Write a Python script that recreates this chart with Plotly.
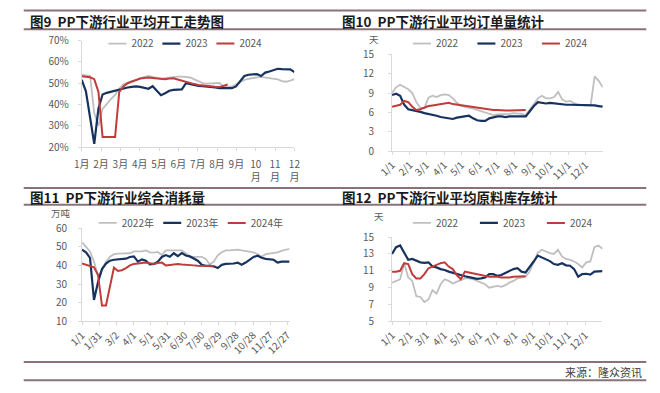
import plotly.graph_objects as go
import pandas as pd

# ---------------- data ----------------
# 图9 平均开工率 (%), weekly
p1_ticktext = ["1月", "2月", "3月", "4月", "5月", "6月", "7月", "8月", "9月", "10<br>月", "11<br>月", "12<br>月"]
p1_2022 = [53.9, 53.7, 53.4, 36.0, 30.0, 38.0, 40.5, 42.5, 44.5, 47.5, 49.5, 50.3, 51.0, 51.5, 52.3, 53.0,
           53.4, 52.8, 52.5, 52.2, 52.5, 52.8, 53.0, 53.1, 53.1, 53.0, 52.7, 51.8, 50.8, 50.1, 49.8, 49.8,
           50.1, 50.1, 48.5, 48.2, 48.5, 49.5, 50.5, 51.6, 52.0, 52.5, 52.8, 53.0, 52.7, 52.6, 52.4, 51.8,
           51.0, 50.7, 51.2, 51.9]
p1_2023 = [51.6, 46.2, 34.0, 21.5, 38.0, 44.7, 45.5, 46.0, 46.6, 47.2, 47.5, 48.0, 48.3, 48.5, 48.3, 47.8,
           47.4, 48.6, 46.5, 44.4, 45.3, 46.5, 46.9, 47.0, 47.1, 50.0, 49.5, 49.0, 48.8, 48.6, 48.5, 48.3,
           48.0, 47.7, 47.7, 47.7, 47.7, 48.5, 51.0, 53.4, 54.0, 54.2, 54.3, 53.4, 55.0, 55.5, 56.0, 56.8,
           56.6, 56.5, 56.5, 55.2]
p1_2024 = [53.3, 53.2, 52.8, 51.9, 46.0, 24.8, 24.8, 24.8, 24.8, 46.0, 48.5, 50.0, 50.8, 51.5, 52.2, 52.5,
           52.7, 52.5, 52.3, 52.0, 51.9, 52.2, 52.3, 51.8, 51.2, 50.5, 50.0, 49.6, 49.2, 48.9, 48.6, 48.4,
           48.3, 48.2, 48.8, 49.4]

# 图10 平均订单天数 (天), weekly
p2_2022 = [9.0, 9.9, 10.3, 10.0, 9.6, 9.0, 7.6, 6.7, 6.7, 8.3, 8.6, 8.4, 8.7, 8.8, 8.7, 8.2, 7.5, 7.0,
           6.8, 6.7, 6.6, 6.4, 6.2, 6.0, 5.8, 5.6, 5.7, 5.7, 5.8, 5.8, 5.9, 5.9, 5.8, 5.6, 6.4, 7.3, 8.2,
           8.6, 8.2, 8.2, 8.4, 9.2, 8.0, 7.7, 7.8, 7.4, 7.2, 7.1, 7.1, 7.1, 11.6, 10.9, 9.9]
p2_2023 = [8.7, 8.9, 8.6, 7.2, 6.5, 6.4, 6.3, 6.1, 5.9, 5.8, 5.7, 5.5, 5.3, 5.2, 5.1, 5.0, 5.2, 5.3,
           5.3, 5.5, 5.1, 4.8, 4.7, 4.7, 5.1, 5.3, 5.4, 5.4, 5.3, 5.4, 5.4, 5.4, 5.5, 5.4, 6.2, 7.0, 7.6,
           7.5, 7.4, 7.5, 7.4, 7.3, 7.3, 7.2, 7.2, 7.2, 7.1, 7.1, 7.1, 7.1, 7.1, 7.0, 6.9]
p2_2024 = [6.9, 7.1, 7.2, 7.8, 7.6, 6.9, 6.4, 6.5, 6.8, 7.0, 7.1, 7.2, 7.4, 7.5, 7.5, 7.3, 7.2, 7.2,
           7.1, 6.9, 6.9, 6.8, 6.7, 6.6, 6.5, 6.4, 6.4, 6.3, 6.3, 6.3, 6.3, 6.4, 6.4, 6.4]

# 图11 综合消耗量 (万吨), weekly
p3_2022 = [52.3, 49.8, 47.5, 42.0, 34.0, 37.5, 42.0, 44.6, 46.0, 46.3, 46.3, 46.3, 46.5, 47.5, 47.5,
           47.5, 48.0, 47.0, 46.8, 47.2, 45.5, 48.0, 48.0, 48.0, 48.0, 48.0, 46.5, 44.8, 44.6, 44.6, 44.6,
           43.5, 40.5, 42.0, 45.4, 47.0, 48.0, 48.0, 48.2, 48.4, 48.0, 47.7, 47.3, 47.0, 46.0, 44.6, 46.0,
           46.3, 46.5, 47.0, 47.7, 48.5, 48.9]
p3_2023 = [48.4, 47.0, 44.0, 21.5, 31.0, 38.0, 41.0, 42.5, 43.0, 43.2, 43.3, 43.6, 44.5, 44.8, 42.0,
           43.2, 42.5, 40.5, 40.8, 42.0, 44.5, 45.5, 44.6, 46.5, 45.0, 46.6, 45.3, 44.8, 43.7, 42.5, 40.3,
           39.8, 39.8, 39.5, 38.6, 40.3, 40.8, 40.8, 41.0, 41.5, 40.3, 41.5, 43.0, 44.5, 45.2, 44.1, 43.5,
           43.2, 43.0, 41.5, 42.0, 42.0, 42.0]
p3_2024 = [41.0, 40.3, 39.5, 39.0, 35.0, 18.5, 18.5, 28.0, 38.8, 37.0, 37.4, 38.5, 40.0, 40.8, 41.2,
           41.3, 41.5, 41.2, 40.8, 41.3, 41.5, 40.0, 40.3, 40.6, 40.8, 40.5, 40.2, 40.0, 40.0, 39.8, 39.8,
           39.6, 39.5, 39.5]

# 图12 平均原料库存天数 (天), weekly
p4_2022 = [9.6, 9.8, 10.0, 11.9, 10.2, 9.8, 8.0, 7.9, 7.3, 7.6, 8.7, 8.3, 9.4, 10.0, 9.8, 9.5, 9.7,
           9.9, 10.1, 10.1, 10.0, 9.8, 9.6, 9.4, 9.0, 9.1, 9.2, 9.1, 9.3, 9.6, 9.8, 10.1, 10.2, 10.3, 10.9,
           12.0, 13.1, 13.5, 13.3, 13.1, 13.0, 13.5, 12.7, 12.4, 12.3, 12.1, 11.8, 11.4, 12.0, 12.1, 13.8,
           14.0, 13.6]
p4_2023 = [13.0, 13.8, 14.0, 13.2, 12.3, 12.4, 12.2, 12.0, 11.95, 12.0, 11.5, 11.4, 11.2, 11.1, 10.9,
           10.75, 10.6, 10.5, 10.35, 10.25, 10.15, 10.05, 10.1, 10.2, 10.6, 10.6, 10.4, 10.5, 10.75, 10.95,
           11.2, 11.3, 10.9, 10.8, 11.4, 12.1, 12.8, 12.6, 12.35, 12.15, 11.8, 11.7, 11.9, 11.65, 11.6,
           11.2, 10.3, 10.6, 10.65, 10.55, 10.9, 10.95, 10.95]
p4_2024 = [10.9, 10.9, 11.0, 11.9, 11.8, 10.6, 10.1, 10.1, 10.6, 11.3, 11.5, 11.7, 11.9, 12.0, 11.5,
           11.2, 10.5, 10.0, 10.9, 10.8, 10.7, 10.6, 10.5, 10.4, 10.3, 10.3, 10.3, 10.2, 10.2, 10.2, 10.3,
           10.3, 10.3, 10.35]

years = ["2022", "2023", "2024"]
years_cn = ["2022年", "2023年", "2024年"]
titles = ["图9  PP下游行业平均开工走势图", "图10  PP下游行业平均订单量统计",
          "图11  PP下游行业综合消耗量", "图12  PP下游行业平均原料库存统计"]
source_text = "来源：隆众资讯"

# ---------------- style ----------------
W, H = 660, 393
colors = ["#BFBFBF", "#17325E", "#C23B3B"]
widths = [1.8, 2.2, 2.0]
FONT = "Noto Sans CJK SC, sans-serif"
TICKC = "#595959"
AXC = "#D9D9D9"
BAR = "#8A7378"


def px_x(v):
    return v / W


def px_y(v):
    return 1 - v / H


def weekly_dates(n):
    return pd.date_range("2023-01-01", periods=n, freq="7D")


# legend entry widths (px) per panel: pitch between entries, last entry wide enough for its text
leg_w = {"legend": [9, 9, 28], "legend2": [19.5, 19.5, 28], "legend3": [19.5, 19.5, 36], "legend4": [22, 22, 28]}

fig = go.Figure()

panels = [
    ("x", "y", "legend", years, [p1_2022, p1_2023, p1_2024], None),
    ("x2", "y2", "legend2", years, [p2_2022, p2_2023, p2_2024], "date"),
    ("x3", "y3", "legend3", years_cn, [p3_2022, p3_2023, p3_2024], "date"),
    ("x4", "y4", "legend4", years, [p4_2022, p4_2023, p4_2024], "date"),
]
for xa, ya, lg, names, series, kind in panels:
    for i, s in enumerate(series):
        xs = weekly_dates(len(s)) if kind == "date" else list(range(len(s)))
        fig.add_trace(go.Scatter(x=xs, y=s, mode="lines", name=names[i],
                                 line=dict(color=colors[i], width=widths[i]),
                                 xaxis=xa, yaxis=ya, legend=lg, legendwidth=leg_w[lg][i]))

axis_common = dict(showgrid=False, zeroline=False, showline=True, linecolor=AXC, linewidth=1,
                   ticks="outside", ticklen=3, tickcolor=AXC,
                   tickfont=dict(family=FONT, size=10, color=TICKC))

n1 = len(p1_2022) - 1
fig.update_layout(
    xaxis=dict(domain=[px_x(68), px_x(288)], anchor="y", range=[0, n1],
               tickvals=[k * n1 / 11 for k in range(12)], ticktext=p1_ticktext,
               ticklabelstandoff=5, **axis_common),
    yaxis=dict(domain=[px_y(144), px_y(33)], anchor="x", range=[20, 70], dtick=10,
               ticksuffix="%", ticklabelstandoff=7, **axis_common),
    xaxis2=dict(domain=[px_x(389), px_x(607)], anchor="y2", type="date",
                range=["2023-01-01", "2023-12-31"], tick0="2023-01-01", dtick="M1",
                tickformat="%-m/%-d", tickangle=-45, **axis_common),
    yaxis2=dict(domain=[px_y(148.3), px_y(47.3)], anchor="x2", range=[0, 15], dtick=3,
                ticklabelstandoff=12, **axis_common),
    xaxis3=dict(domain=[px_x(68.3), px_x(283)], anchor="y3", type="date",
                range=["2023-01-01", "2023-12-31"], tick0="2023-01-01", dtick=30 * 86400000,
                tickformat="%-m/%-d", tickangle=-45, **axis_common),
    yaxis3=dict(domain=[px_y(325.7), px_y(228.3)], anchor="x3", range=[10, 60], dtick=10,
                ticklabelstandoff=9, **axis_common),
    xaxis4=dict(domain=[px_x(389), px_x(606.7)], anchor="y4", type="date",
                range=["2023-01-01", "2023-12-31"], tick0="2023-01-01", dtick="M1",
                tickformat="%-m/%-d", tickangle=-45, **axis_common),
    yaxis4=dict(domain=[px_y(325.7), px_y(237.7)], anchor="x4", range=[5, 15], tick0=5, dtick=2,
                ticklabelstandoff=12, **axis_common),
)

leg_common = dict(orientation="h", xanchor="left", yanchor="middle", bgcolor="rgba(0,0,0,0)",
                  font=dict(family=FONT, size=10, color=TICKC), itemwidth=30, tracegroupgap=0)
fig.update_layout(
    legend=dict(x=px_x(78), y=px_y(36), **leg_common),
    legend2=dict(x=px_x(393), y=px_y(36), **leg_common),
    legend3=dict(x=px_x(68), y=px_y(223), **leg_common),
    legend4=dict(x=px_x(393), y=px_y(223), **leg_common),
)

annotations = []
title_pos = [(12, 13), (335, 13), (12, 196), (335, 196)]
for t, (tx, ty) in zip(titles, title_pos):
    annotations.append(dict(text="<b>" + t + "</b>", x=px_x(tx), y=px_y(ty), xref="paper", yref="paper",
                            xanchor="left", yanchor="middle", showarrow=False,
                            font=dict(family=FONT, size=13.5, color="#1A1A1A")))
for t, (tx, ty) in zip(["天", "万吨", "天"], [(370, 31), (47, 213), (375, 216)]):
    annotations.append(dict(text=t, x=px_x(tx), y=px_y(ty), xref="paper", yref="paper",
                            xanchor="center", yanchor="middle", showarrow=False,
                            font=dict(family=FONT, size=9.5, color=TICKC)))
annotations.append(dict(text=source_text, x=px_x(650), y=px_y(378), xref="paper", yref="paper",
                        xanchor="right", yanchor="middle", showarrow=False,
                        font=dict(family=FONT, size=11, color="#404040")))

shapes = []
for yy in [1.5, 21, 186.5, 204, 368, 387]:
    shapes.append(dict(type="line", xref="paper", yref="paper", x0=px_x(8), x1=px_x(652),
                       y0=px_y(yy), y1=px_y(yy), line=dict(color=BAR, width=2)))

fig.update_layout(width=W, height=H, margin=dict(l=0, r=0, t=0, b=0),
                  paper_bgcolor="white", plot_bgcolor="white",
                  annotations=annotations, shapes=shapes, showlegend=True,
                  font=dict(family=FONT, size=10, color=TICKC))

post = (
    "document.body.style.margin='0px';"
    "document.querySelectorAll('g.legendlines path').forEach(function(p){p.setAttribute('d','M17,0h18');});"
)
fig.write_html("out.html", config={"displayModeBar": False}, post_script=post)
